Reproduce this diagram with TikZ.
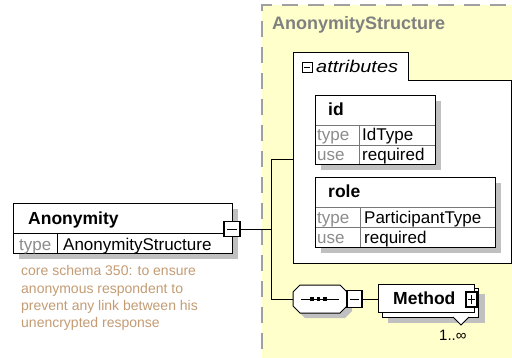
\documentclass[tikz,border=0pt]{standalone}
\usepackage{fontspec}
\setmainfont{Liberation Sans}
\usepackage{graphicx}
\usetikzlibrary{shadows}
\definecolor{yel}{RGB}{255,255,204}
\definecolor{shd}{RGB}{192,192,192}
\definecolor{lblc}{RGB}{140,140,140}
\definecolor{descc}{RGB}{196,156,116}
\definecolor{dashc}{RGB}{160,160,160}
\definecolor{ttlc}{RGB}{128,128,128}
\definecolor{rowc}{RGB}{120,120,120}
\begin{document}
\begin{tikzpicture}[x=1pt,y=-1pt,
  box/.style={draw=black, line width=1pt, fill=white, inner sep=0pt, outer sep=0pt, anchor=north west},
  sh/.style={drop shadow={shadow xshift=#1, shadow yshift=-#1, fill=shd, opacity=1}},
  sh/.default=6pt,
  txt/.style={inner sep=0pt, anchor=base west, font=\fontsize{17}{20}\selectfont},
  lbl/.style={txt, text=lblc},
  ttl/.style={inner sep=0pt, anchor=base west, font=\fontsize{17.5}{20}\selectfont\bfseries},
  dsc/.style={inner sep=0pt, anchor=base west, text=descc, font=\fontsize{14}{17}\selectfont},
  conn/.style={draw=black, line width=1pt},
  rowline/.style={draw=rowc, line width=1pt},
  sign/.style={draw=black, line width=1pt}
]
\useasboundingbox (0,0) rectangle (512,357);
\fill[white] (0,0) rectangle (512,357);

% complex type region
\node[box, draw=dashc, line width=1.5pt, dash pattern=on 16pt off 10pt, fill=yel,
      minimum width=270pt, minimum height=380pt] (struct) at (262,5) {};
\node[ttl, text=ttlc, font=\fontsize{18}{20}\selectfont\bfseries] (stitle) at (272,29.3) {AnonymityStructure};

% attributes container
\draw[line width=1pt, fill=white] (293,263) -- (293,52) -- (408,52) -- (408,80) -- (511,80) -- (511,263) -- cycle;
\coordinate (attrW) at (293,159);
\node[box, line width=0.8pt, minimum width=10pt, minimum height=10pt] (tabmin) at (302,62) {};
\draw[sign] ([xshift=2pt]tabmin.west) -- ([xshift=-2pt]tabmin.east);
\node[txt, font=\fontsize{17}{20}\selectfont\itshape] (attrlbl) at (316,72) {\scalebox{1.17}[1]{attributes}};

% id attribute
\node[box, sh, minimum width=120pt, minimum height=69pt] (idbox) at (315,95) {};
\draw[rowline] (315.5,125) -- (434.5,125);
\draw[rowline] (315.5,145) -- (434.5,145);
\draw[rowline] (359,125) -- (359,163.5);
\node[ttl] (idlbl) at (328,115) {id};
\node[lbl] (idtl) at (317,140.5) {type};
\node[txt] (idtv) at (362,140.5) {IdType};
\node[lbl] (idul) at (317,160.5) {use};
\node[txt] (iduv) at (362,160.5) {required};

% role attribute
\node[box, sh, minimum width=180pt, minimum height=70pt] (rolebox) at (315,177) {};
\draw[rowline] (315.5,207) -- (494.5,207);
\draw[rowline] (315.5,227) -- (494.5,227);
\draw[rowline] (360,207) -- (360,246.5);
\node[ttl] (rolelbl) at (328,197) {role};
\node[lbl] (roletl) at (317,223.5) {type};
\node[txt] (roletv) at (364,223.5) {ParticipantType};
\node[lbl] (roleul) at (317,243) {use};
\node[txt] (roleuv) at (364,243) {required};

% sequence compositor
\node[inner sep=0pt, minimum width=54pt, minimum height=28pt] (seq) at (320,299) {};
\fill[shd, shift={(5,5)}] (300,285) -- (340,285) -- (347,292) -- (347,306) -- (340,313) -- (300,313) -- (293,306) -- (293,292) -- cycle;
\draw[line width=1pt, fill=white] (300,285) -- (340,285) -- (347,292) -- (347,306) -- (340,313) -- (300,313) -- (293,306) -- (293,292) -- cycle;
\draw[line width=1pt] (301,299) -- (339,299);
\fill (310,297.3) rectangle (313.5,300.7);
\fill (316.5,297.3) rectangle (320,300.7);
\fill (323,297.3) rectangle (326.5,300.7);
\node[box, line width=1.6pt, minimum width=15pt, minimum height=17pt] (minS) at (347,290.5) {};
\draw[sign] ([xshift=3pt]minS.west) -- ([xshift=-3pt]minS.east);

% Method element (repeated)
\fill[shd] (388,294) rectangle (485,323);
\node[box, minimum width=96pt, minimum height=29pt] (methback) at (382,288) {};
\draw[line width=1pt, fill=white] (453,317) -- (461,325) -- (469,317);
\node[box, minimum width=96pt, minimum height=28pt] (meth) at (378,284) {};
\node[ttl] (methlbl) at (393,304.5) {Method};
\node[box, line width=1.3pt, minimum width=11pt, minimum height=15pt] (plus) at (466,292) {};
\draw[sign] ([xshift=2pt]plus.west) -- ([xshift=-2pt]plus.east);
\draw[sign] ([yshift=-3pt]plus.north) -- ([yshift=3pt]plus.south);
\node[txt, font=\fontsize{15}{18}\selectfont] (mult) at (439,340) {1..∞};

% Anonymity element
\node[box, sh, minimum width=219pt, minimum height=50pt] (anon) at (13,203) {};
\draw[line width=1pt] (13,233) -- (232,233);
\draw[line width=1pt] (57,233) -- (57,253);
\node[ttl] (anonlbl) at (28,224.5) {Anonymity};
\node[lbl] (anontl) at (19,250) {type};
\node[txt] (anontv) at (63,250) {AnonymityStructure};
\node[box, anchor=center, line width=1.6pt, minimum width=16pt, minimum height=15pt] (minA) at (232,229) {};
\draw[sign] ([xshift=3pt]minA.west) -- ([xshift=-3pt]minA.east);

% documentation
\node[dsc] (d1) at (21,275.5) {core schema 350: to ensure};
\node[dsc] (d2) at (21,293) {anonymous respondent to};
\node[dsc] (d3) at (21,310) {prevent any link between his};
\node[dsc] (d4) at (21,327) {unencrypted response};

% connectors
\coordinate (busT) at (271,159);
\coordinate (busB) at (271,299);
\draw[conn] (minA.east) -- (minA.east -| busT);
\draw[conn] (busT) -- (busB);
\draw[conn] (busT) -- (attrW);
\draw[conn] (busB) -- (seq.west);
\draw[conn] (minS.east) -- (minS.east -| meth.west);
\end{tikzpicture}
\end{document}
